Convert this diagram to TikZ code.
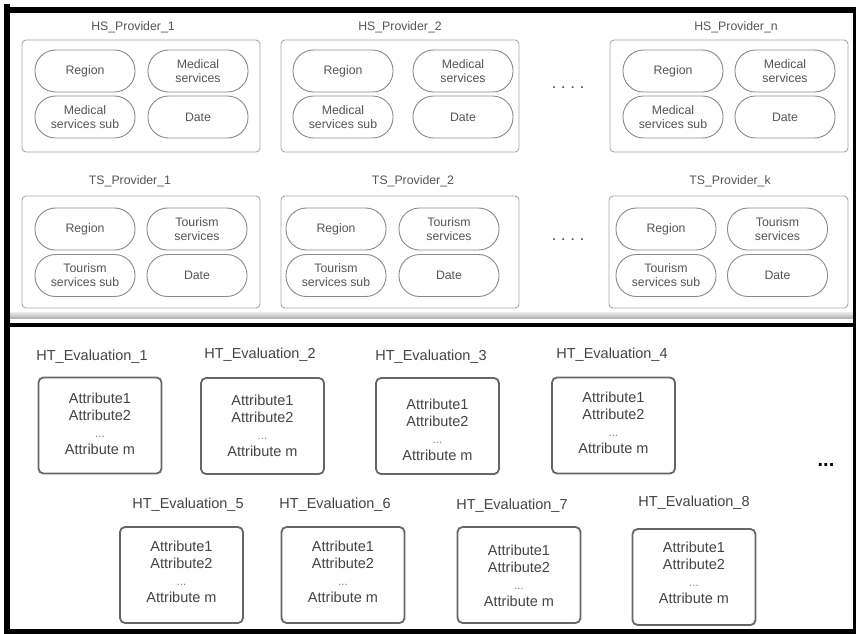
\documentclass[tikz,border=0pt]{standalone}
\usepackage{fontspec}
\setmainfont{Liberation Sans}
\definecolor{toptext}{HTML}{555555}
\definecolor{pillline}{HTML}{8A8A8A}
\definecolor{provline}{HTML}{A8A8A8}
\definecolor{evalline}{HTML}{666666}
\definecolor{evaltext}{HTML}{444444}
\begin{document}
\begin{tikzpicture}[x=1pt,y=-1pt,
  provbox/.style={draw=provline, line width=0.9pt, rounded corners=4pt,
    minimum width=238pt, minimum height=112pt, inner sep=0pt},
  pill/.style={draw=pillline, line width=0.9pt, rounded corners=20.5pt,
    minimum width=100pt, minimum height=42pt, inner sep=0pt, align=center,
    font=\fontsize{12.3}{14}\selectfont, text=toptext},
  provlabel/.style={font=\fontsize{12.3}{14}\selectfont, text=toptext, inner sep=0pt},
  gapdots/.style={font=\fontsize{12}{14}\selectfont\bfseries, text=toptext, inner sep=0pt},
  evalbox/.style={draw=evalline, line width=1.8pt, rounded corners=5pt,
    minimum width=123pt, minimum height=96pt, inner sep=0pt},
  evallabel/.style={font=\fontsize{14.5}{17}\selectfont, text=evaltext, inner sep=0pt},
  attrs/.style={align=center, font=\fontsize{14.5}{17}\selectfont, text=evaltext, inner sep=0pt}
]
\useasboundingbox (0,0) rectangle (858,633);
\fill[white] (0,0) rectangle (858,633);

% shadow under the provider panel and the dividing rule
\shade[top color=gray!15, bottom color=gray!60] (10,312) rectangle (853,318);
\draw[line width=4.5pt] (4,325) -- (856,325);

% outer frame
\draw[line width=6pt] (7,4) -- (7,633);
\draw[line width=6pt] (4,10) -- (856,10);
\draw[line width=5pt] (4,631) -- (856,631);
\draw[line width=3pt] (854.5,7) -- (854.5,633);

% ---------- health service providers ----------
\node[provlabel] (hs1lab) at (133,27) {HS\_Provider\_1};
\node[provlabel] (hs2lab) at (400,27) {HS\_Provider\_2};
\node[provlabel] (hsnlab) at (736,27) {HS\_Provider\_n};

\node[provbox] (hs1) at (141,96) {};
\node[provbox] (hs2) at (400,96) {};
\node[provbox] (hsn) at (729,96) {};

\foreach \nm/\xa/\xb in {hsa/85/198, hsb/343/463, hsc/673/785}{
  \node[pill] (\nm-reg) at (\xa,71) {Region};
  \node[pill] (\nm-med) at (\xb,71) {Medical\\services};
  \node[pill] (\nm-sub) at (\xa,117) {Medical\\services sub};
  \node[pill] (\nm-date) at (\xb,117) {Date};
}
\node[gapdots] (hsdots) at (568,88) {.\hspace{6pt}.\hspace{6pt}.\hspace{6pt}.};

% ---------- tourism service providers ----------
\node[provlabel] (ts1lab) at (130,181) {TS\_Provider\_1};
\node[provlabel] (ts2lab) at (413,181) {TS\_Provider\_2};
\node[provlabel] (tsklab) at (730,181) {TS\_Provider\_k};

\node[provbox] (ts1) at (141,252) {};
\node[provbox] (ts2) at (400,252) {};
\node[provbox, minimum width=239pt] (tsk) at (728.5,252) {};

\foreach \nm/\xa/\xb in {tsa/85/197, tsb/336/449, tsc/666/777.5}{
  \node[pill] (\nm-reg) at (\xa,229) {Region};
  \node[pill] (\nm-tour) at (\xb,229) {Tourism\\services};
  \node[pill] (\nm-sub) at (\xa,275.5) {Tourism\\services sub};
  \node[pill] (\nm-date) at (\xb,275.5) {Date};
}
\node[gapdots] (tsdots) at (568,240) {.\hspace{6pt}.\hspace{6pt}.\hspace{6pt}.};

% ---------- evaluations ----------
\foreach \i/\lx/\ly/\bx/\by/\ty in {
  1/92/357/100/425.5/424,
  2/260/355/262.5/426/425.5,
  3/431/357/437.5/426/430,
  4/612/355/613.5/425.5/423,
  5/188/505/181.5/575/572,
  6/335/505/343/575/572,
  7/512/506/519/575/576,
  8/694/503/694/577/572.5}{
  \node[evallabel] (ev\i lab) at (\lx,\ly) {HT\_Evaluation\_\i};
  \node[evalbox] (ev\i) at (\bx,\by) {};
  \node[attrs] (ev\i txt) at (\bx,\ty) {Attribute1\\Attribute2\\{\fontsize{11.5}{17}\selectfont\color{gray}...}\\Attribute m};
}
\node[font=\fontsize{20}{20}\selectfont\bfseries, inner sep=0pt] (evdots) at (826,465) {...};

\end{tikzpicture}
\end{document}
